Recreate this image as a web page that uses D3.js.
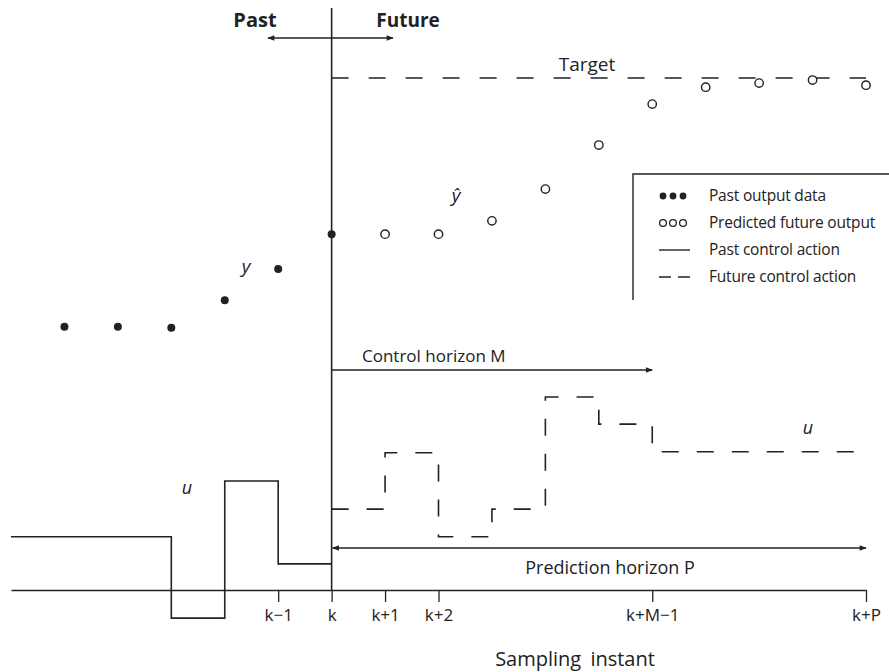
<!DOCTYPE html>
<html>
<head>
<meta charset="utf-8">
<script src="https://cdn.jsdelivr.net/npm/d3@7"></script>
<style>
  body { margin: 0; background: #fff; }
  svg text { font-family: "Open Sans", "DejaVu Sans", sans-serif; fill: #222; }
</style>
</head>
<body>
<div id="mpcVis"></div>
<script>
// sampling instants are offsets from k
var pastSteps = [-5, -4, -3, -2, -1, 0];
var pastOutput = [51.4, 51.4, 51.2, 56.6, 62.7, 69.5];

var futureSteps = [1, 2, 3, 4, 5, 6, 7, 8, 9, 10];
var predictedOutput = [69.5, 69.5, 72.1, 78.3, 86.9, 94.9, 98.2, 99.0, 99.6, 98.6];

var target = 100;

// control moves (value held until next instant)
var pastControlSteps = [-6, -3, -2, -1, 0];
var pastControl = [10.4, -5.5, 21.3, 5.1, 5.1];
var futureControlSteps = [0, 1, 2, 3, 4, 5, 6, 10];
var futureControl = [15.8, 26.8, 10.4, 15.8, 37.7, 32.4, 27.0, 27.0];

var tickSteps = [-1, 0, 1, 2, 6, 10];
var tickLabels = ["k\u22121", "k", "k+1", "k+2", "k+M\u22121", "k+P"];

var legendLabels = ["Past output data", "Predicted future output", "Past control action", "Future control action"];

var width = 889, height = 672;
var ink = "#222";

var svg = d3.select("#mpcVis").append("svg")
    .attr("width", width)
    .attr("height", height);

// arrow heads
var defs = svg.append("defs");
["end", "start"].forEach(function(k) {
    defs.append("marker")
        .attr("id", "arrow-" + k)
        .attr("viewBox", "0 0 10 10")
        .attr("refX", k === "end" ? 9 : 1)
        .attr("refY", 5)
        .attr("markerWidth", 9)
        .attr("markerHeight", 7)
        .attr("markerUnits", "userSpaceOnUse")
        .attr("orient", "auto")
        .append("path")
        .attr("d", k === "end" ? "M0,1L10,5L0,9Z" : "M10,1L0,5L10,9Z")
        .attr("fill", ink);
});

//Scales
var x = d3.scaleLinear().domain([-6, 10]).range([11, 866]);
var y = d3.scaleLinear().domain([0, 100]).range([590, 78]);

//Axis
var xAxis = d3.axisBottom(x)
    .tickValues(tickSteps)
    .tickFormat(function(d, i) { return tickLabels[i]; })
    .tickSize(12)
    .tickSizeOuter(0)
    .tickPadding(7);

var gx = svg.append("g")
    .attr("class", "x-axis")
    .attr("transform", "translate(0," + y(0) + ")")
    .call(xAxis);
gx.select(".domain").attr("stroke", ink).attr("stroke-width", 1.6);
gx.selectAll(".tick line").attr("stroke", ink).attr("stroke-width", 1.3);
gx.selectAll(".tick text")
    .style("font-family", "'Open Sans', sans-serif")
    .style("font-size", "17px")
    .attr("fill", ink);

svg.append("text")
    .attr("x", 575)
    .attr("y", 666)
    .attr("text-anchor", "middle")
    .style("font-size", "20px")
    .style("word-spacing", "4px")
    .text("Sampling instant");

// present instant k
svg.append("line")
    .attr("x1", x(0)).attr("x2", x(0))
    .attr("y1", 8).attr("y2", y(0))
    .attr("stroke", ink).attr("stroke-width", 1.6);

// Past / Future
svg.append("line")
    .attr("x1", 268).attr("x2", 393)
    .attr("y1", 38).attr("y2", 38)
    .attr("stroke", ink).attr("stroke-width", 1.3)
    .attr("marker-start", "url(#arrow-start)")
    .attr("marker-end", "url(#arrow-end)");
svg.append("text").attr("x", 255).attr("y", 27).attr("text-anchor", "middle")
    .style("font-size", "20px").style("font-weight", "bold").text("Past");
svg.append("text").attr("x", 408).attr("y", 27).attr("text-anchor", "middle")
    .style("font-size", "19px").style("font-weight", "bold").text("Future");

// target
svg.append("line")
    .attr("x1", x(0)).attr("x2", x(10))
    .attr("y1", y(target)).attr("y2", y(target))
    .attr("stroke", ink).attr("stroke-width", 1.4)
    .attr("stroke-dasharray", "17,20");
svg.append("text").attr("x", 587).attr("y", 71).attr("text-anchor", "middle")
    .style("font-size", "19px").text("Target");

// outputs
svg.selectAll("circle.past")
    .data(pastOutput)
    .enter().append("circle")
    .attr("class", "past")
    .attr("cx", function(d, i) { return x(pastSteps[i]); })
    .attr("cy", function(d) { return y(d); })
    .attr("r", 4)
    .attr("fill", ink);

svg.selectAll("circle.pred")
    .data(predictedOutput)
    .enter().append("circle")
    .attr("class", "pred")
    .attr("cx", function(d, i) { return x(futureSteps[i]); })
    .attr("cy", function(d) { return y(d); })
    .attr("r", 4.2)
    .attr("fill", "#fff")
    .attr("stroke", ink)
    .attr("stroke-width", 1.4);

svg.append("text").attr("x", 246).attr("y", 273).attr("text-anchor", "middle")
    .style("font-size", "19px").style("font-style", "italic").text("y");
svg.append("text").attr("x", 456).attr("y", 202).attr("text-anchor", "middle")
    .style("font-size", "19px").style("font-style", "italic").text("\u0177");

// control actions
var stepLine = d3.line().curve(d3.curveStepAfter);

svg.append("path")
    .datum(pastControl.map(function(d, i) { return [x(pastControlSteps[i]), y(d)]; }))
    .attr("d", stepLine)
    .attr("fill", "none")
    .attr("stroke", ink)
    .attr("stroke-width", 1.6);

svg.append("path")
    .datum(futureControl.map(function(d, i) { return [x(futureControlSteps[i]), y(d)]; }))
    .attr("d", stepLine)
    .attr("fill", "none")
    .attr("stroke", ink)
    .attr("stroke-width", 1.6)
    .attr("stroke-dasharray", "17,18");

svg.append("text").attr("x", 187).attr("y", 494).attr("text-anchor", "middle")
    .style("font-size", "18px").style("font-style", "italic").text("u");
svg.append("text").attr("x", 808).attr("y", 434).attr("text-anchor", "middle")
    .style("font-size", "18px").style("font-style", "italic").text("u");

// horizons
svg.append("line")
    .attr("x1", x(0)).attr("x2", x(6))
    .attr("y1", 370).attr("y2", 370)
    .attr("stroke", ink).attr("stroke-width", 1.4)
    .attr("marker-end", "url(#arrow-end)");
svg.append("text").attr("x", 362).attr("y", 362)
    .style("font-size", "17px").text("Control horizon M");

svg.append("line")
    .attr("x1", x(0) + 1).attr("x2", x(10))
    .attr("y1", 548).attr("y2", 548)
    .attr("stroke", ink).attr("stroke-width", 1.4)
    .attr("marker-start", "url(#arrow-start)")
    .attr("marker-end", "url(#arrow-end)");
svg.append("text").attr("x", 610).attr("y", 574).attr("text-anchor", "middle")
    .style("font-size", "18px").text("Prediction horizon P");

// legend
var legend = svg.append("g").attr("class", "legend");
legend.append("path")
    .attr("d", "M633,300V174H889")
    .attr("fill", "none")
    .attr("stroke", ink)
    .attr("stroke-width", 1.4);

var rowY = [196, 223, 250, 277];
legend.selectAll("text")
    .data(legendLabels)
    .enter().append("text")
    .attr("x", 709)
    .attr("y", function(d, i) { return rowY[i] + 5; })
    .style("font-size", "15.5px")
    .style("letter-spacing", "-0.2px")
    .text(function(d) { return d; });

[663, 673, 683].forEach(function(cx) {
    legend.append("circle").attr("cx", cx).attr("cy", rowY[0]).attr("r", 3.4).attr("fill", ink);
    legend.append("circle").attr("cx", cx).attr("cy", rowY[1]).attr("r", 3.4)
        .attr("fill", "#fff").attr("stroke", ink).attr("stroke-width", 1.3);
});
legend.append("line").attr("x1", 659).attr("x2", 690).attr("y1", rowY[2]).attr("y2", rowY[2])
    .attr("stroke", ink).attr("stroke-width", 1.4);
legend.append("line").attr("x1", 659).attr("x2", 690).attr("y1", rowY[3]).attr("y2", rowY[3])
    .attr("stroke", ink).attr("stroke-width", 1.4)
    .attr("stroke-dasharray", "12,7");
</script>
</body>
</html>
